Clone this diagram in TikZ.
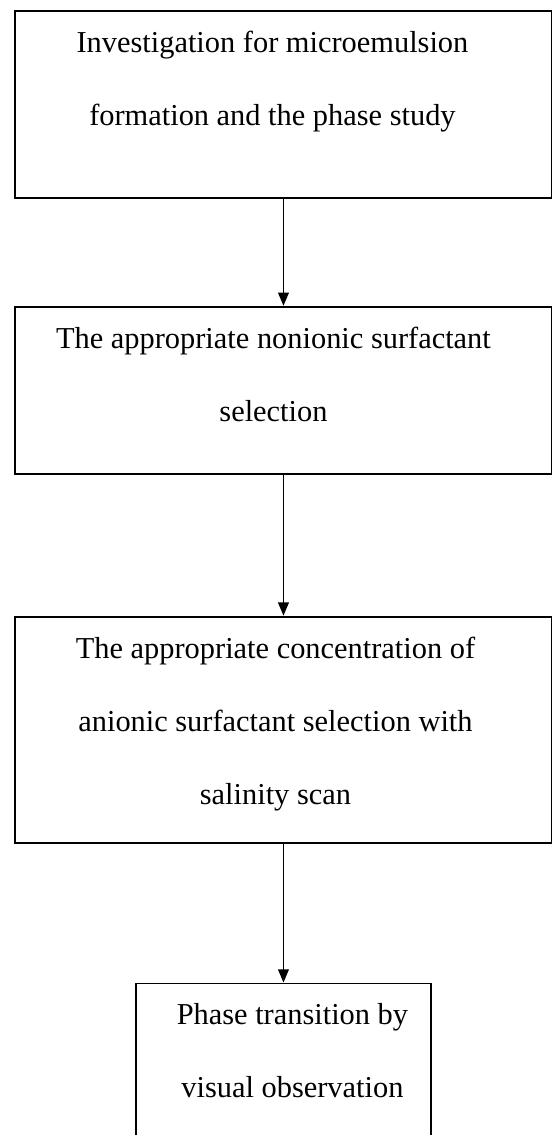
\documentclass[tikz,border=0pt]{standalone}
\usepackage{fontspec}
\setmainfont{Liberation Serif}
\usetikzlibrary{arrows.meta,positioning}
\newcommand{\steptext}[4]{\parbox[t][#1][t]{#2}{\centering\leftskip=#4 plus 1fil\rightskip=-#4 plus 1fil
  \fontsize{22.8pt}{55pt}\selectfont #3}}

\begin{document}
\begin{tikzpicture}[>={Triangle[length=10pt,width=8pt]},line width=1.4pt,
  stepbox/.style={draw,rectangle,inner xsep=0pt,inner ysep=15pt,anchor=north}]

\useasboundingbox (0,0) rectangle (414pt,-851.25pt);

\node[stepbox] (b1) at (212.6pt,-7.5pt) {\steptext{110.25pt}{402.75pt}{Investigation for microemulsion\\formation and the phase study}{-8.25pt}};
\node[stepbox] (b2) [below=80.25pt of b1] {\steptext{95.25pt}{402.75pt}{The appropriate nonionic surfactant\\selection}{-7.5pt}};

\node[stepbox] (b3) [below=105.75pt of b2] {\steptext{139.5pt}{402.75pt}{The appropriate concentration of\\anionic surfactant selection with\\salinity scan}{-6pt}};
\node[stepbox] (b4) [below=104.25pt of b3] {\steptext{99.75pt}{221.25pt}{Phase transition by\\visual observation}{6.75pt}};

\path[->] (b1) edge (b2)
(b2) edge (b3)
(b3) edge (b4);

\end{tikzpicture}
\end{document}
